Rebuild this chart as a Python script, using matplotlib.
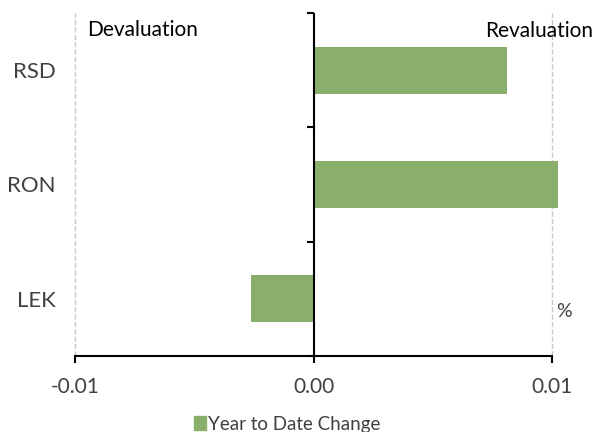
import matplotlib.pyplot as plt
from matplotlib.patches import Patch
import numpy as np

# Данные
currencies = ['LEK', 'RON', 'RSD']
ytd_change = [-0.00264, 0.01023, 0.0081]
xtick_vals = [-0.01, 0.0, 0.01]
xtick_labels = ['-0.01', '0.00', '0.01']

plt.rcParams['font.family'] = ['Liberation Sans Narrow', 'Lato', 'DejaVu Sans']
text_color = '#404040'
bar_color = '#8aaf6a'

fig = plt.figure(figsize=(5.95, 4.32), dpi=100)
ax = fig.add_axes([0.126, 0.176, 0.802, 0.794])

y = np.arange(len(currencies))
bars = ax.barh(y, ytd_change, height=0.41, color=bar_color, zorder=2)
for b in bars:
    b.set_clip_on(False)

ax.set_xlim(-0.01, 0.01)
ax.set_ylim(-0.5, len(currencies) - 0.5)

# Оси
for side in ['top', 'right', 'left']:
    ax.spines[side].set_visible(False)
ax.spines['bottom'].set_linewidth(1.5)
ax.set_xticks(xtick_vals)
ax.set_xticklabels(xtick_labels, fontsize=15, color=text_color)
ax.tick_params(axis='x', length=5, width=1.5, pad=10)
ax.set_yticks(y)
ax.set_yticklabels(currencies, fontsize=16, color=text_color)
ax.tick_params(axis='y', length=0, pad=14)

# Сетка по краям и нулевая линия с засечками между категориями
for xv in [-0.01, 0.01]:
    ax.axvline(xv, color='#c8c8c8', linestyle='--', linewidth=1, zorder=1, clip_on=False)
ax.axvline(0, color='black', linewidth=1.5, zorder=3)
bounds = np.arange(len(currencies) + 1) - 0.5
ax.plot(np.zeros(len(bounds)), bounds, linestyle='none', marker=0,
        markersize=5, markeredgewidth=1.5, color='black', clip_on=False, zorder=3)

# Подписи
ax.text(0.025, 0.95, 'Devaluation', transform=ax.transAxes, fontsize=15,
        color='black', ha='left', va='center')
ax.text(1.085, 0.947, 'Revaluation', transform=ax.transAxes, fontsize=15,
        color='black', ha='right', va='center')
ax.text(1.025, 0.13, '%', transform=ax.transAxes, fontsize=14,
        color=text_color, ha='center', va='center')

fig.legend(handles=[Patch(color=bar_color, label='Year to Date Change')],
           loc='center', bbox_to_anchor=(0.483, 0.018), frameon=False,
           fontsize=13.5, handlelength=0.65, handleheight=0.75, handletextpad=0.1,
           labelcolor=text_color)

fig.savefig('out.png', dpi=100)
